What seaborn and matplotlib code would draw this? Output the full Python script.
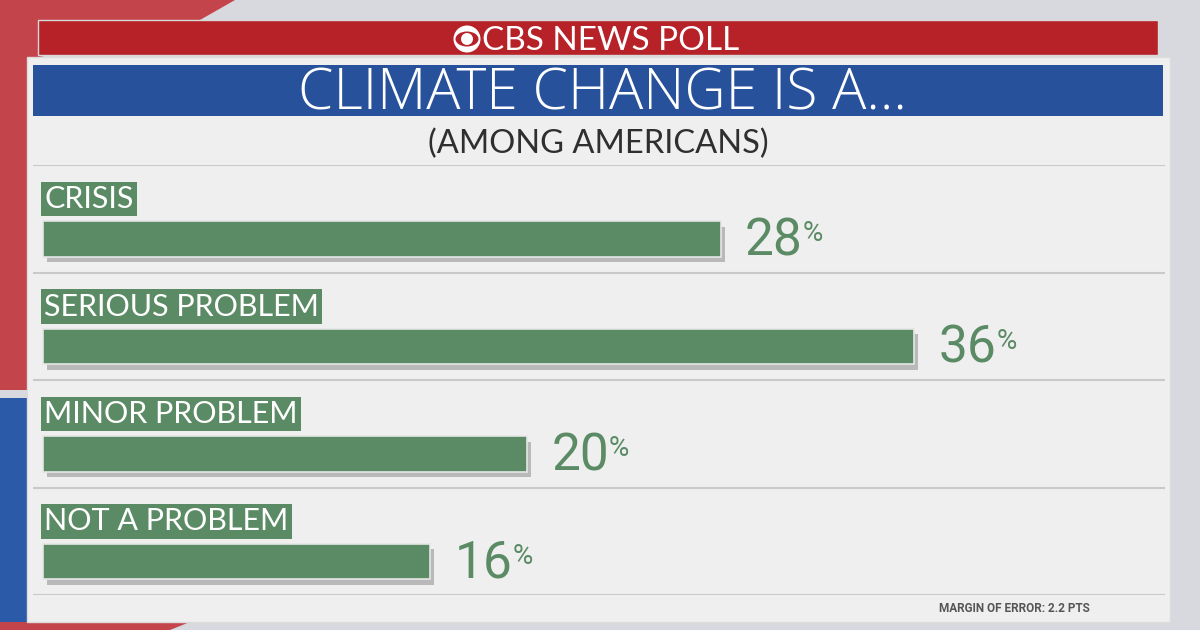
import matplotlib
matplotlib.use("Agg")
import matplotlib.pyplot as plt
import matplotlib.patches as mpatches
import matplotlib.patheffects as pe
import seaborn as sns

# ---- data ----
categories = ["CRISIS", "SERIOUS PROBLEM", "MINOR PROBLEM", "NOT A PROBLEM"]
values = [28, 36, 20, 16]
header_text = "CBS NEWS POLL"
title_text = "CLIMATE CHANGE IS A..."
subtitle_text = "(AMONG AMERICANS)"
footer_text = "MARGIN OF ERROR: 2.2 PTS"

# ---- style ----
sns.set_theme(style="white")
plt.rcParams['font.family'] = ['Lato', 'DejaVu Sans']
GREEN = "#5b8b65"
RED = "#b62228"
BLUE = "#28519c"
PANEL = "#efefef"
W, H = 1200, 630

fig = plt.figure(figsize=(12, 6.3), dpi=100)
fig.patch.set_facecolor("#d8d9de")

def fx(x):
    return x / W

def fy(y):
    return 1 - y / H

def frect(x0, y0, x1, y1, **kw):
    r = mpatches.Rectangle((fx(x0), fy(y1)), fx(x1) - fx(x0), fy(y0) - fy(y1),
                           transform=fig.transFigure, **kw)
    fig.patches.append(r)
    return r

# background flag-like shapes
fig.patches.append(mpatches.Polygon([(fx(0), fy(0)), (fx(235), fy(0)), (fx(200), fy(20)),
                                     (fx(27), fy(60)), (fx(27), fy(390)), (fx(0), fy(390))],
                                    closed=True, transform=fig.transFigure,
                                    facecolor="#c4444c", edgecolor="none", zorder=0))
fig.patches.append(mpatches.Polygon([(fx(0), fy(398)), (fx(27), fy(398)), (fx(27), fy(630)),
                                     (fx(0), fy(630))],
                                    closed=True, transform=fig.transFigure,
                                    facecolor="#2b5aa8", edgecolor="none", zorder=0))
fig.patches.append(mpatches.Polygon([(fx(0), fy(622)), (fx(190), fy(622)), (fx(170), fy(630)),
                                     (fx(0), fy(630))],
                                    closed=True, transform=fig.transFigure,
                                    facecolor="#c4444c", edgecolor="none", zorder=0))

# main panel
frect(27, 57, 1170, 622, facecolor=PANEL, edgecolor="#dcdcdc", lw=1, zorder=1)
# red header bar
frect(38, 20, 1158, 55, facecolor=RED, edgecolor="#d9d9d9", lw=1, zorder=2)
# blue title bar
frect(33, 65, 1163, 116, facecolor=BLUE, edgecolor="none", zorder=2)

# CBS eye logo
cx, cy = 467, 39
fig.patches.append(mpatches.Ellipse((fx(cx), fy(cy)), fx(27), 27 / H, transform=fig.transFigure,
                                    facecolor="white", edgecolor="none", zorder=3))
fig.patches.append(mpatches.Ellipse((fx(cx), fy(cy)), fx(23), 15 / H, transform=fig.transFigure,
                                    facecolor=RED, edgecolor="none", zorder=3))
fig.patches.append(mpatches.Ellipse((fx(cx), fy(cy)), fx(12), 12 / H, transform=fig.transFigure,
                                    facecolor="white", edgecolor="none", zorder=3))

fig.text(fx(482), fy(50), header_text, color="white", fontsize=24, ha="left", va="baseline",
         zorder=4)
fig.text(fx(602), fy(110), title_text, color="white", fontsize=41, fontweight="light",
         family=['Open Sans', 'Lato', 'DejaVu Sans'],
         ha="center", va="baseline", zorder=4)
fig.text(fx(598), fy(153), subtitle_text, color="#2f2f2f", fontsize=23.5,
         ha="center", va="baseline", zorder=4)
fig.text(fx(1090), fy(608), footer_text, color="#555555", fontsize=8.5, fontweight="bold",
         family=['Roboto', 'DejaVu Sans'],
         ha="right", va="center", zorder=4)

# ---- bar axes ----
PX_PER_UNIT = 24.2
ax_left, ax_right, ax_top, ax_bot = 33, 1165, 165, 595
ax = fig.add_axes([fx(ax_left), fy(ax_bot), fx(ax_right) - fx(ax_left), fy(ax_top) - fy(ax_bot)])
ax.set_zorder(10)
ax.set_facecolor("none")
ax.patch.set_alpha(0)

sns.barplot(x=values, y=categories, orient="h", color=GREEN, saturation=1,
            width=0.33, ax=ax, zorder=3)

row_px = (ax_bot - ax_top) / 4
top_val = -(239 - ax_top) / row_px
ax.set_ylim(top_val + 4, top_val)
ax.set_xlim(-(43 - ax_left) / PX_PER_UNIT, (ax_right - 43) / PX_PER_UNIT)

for p in ax.patches:
    p.set_path_effects([pe.SimplePatchShadow(offset=(3, -4), shadow_rgbFace="#555555", alpha=0.35),
                        pe.Normal()])
    p.set_edgecolor("#e6e6e6")
    p.set_linewidth(1.2)

for k in range(5):
    ax.axhline(top_val + k, color="#c9c9c9", lw=1.5, zorder=1)

label_off = (239 - 199) / row_px
num_font = ['Roboto', 'DejaVu Sans']
for i, (cat, v) in enumerate(zip(categories, values)):
    ax.text(0.05, i - label_off, cat, color="white", fontsize=22, ha="left", va="center",
            bbox=dict(boxstyle="square,pad=0.1", facecolor=GREEN, edgecolor="none"), zorder=4)
    t = ax.text(v + 1.0, i + 0.02, str(v), color=GREEN, fontsize=37, family=num_font,
                ha="left", va="center", zorder=4)
    ax.annotate("%", xy=(1, 1), xycoords=t, xytext=(0, -3), textcoords="offset points",
                color=GREEN, fontsize=20, family=num_font, ha="left", va="top", zorder=4)

ax.set_xlabel("")
ax.set_ylabel("")
ax.set_xticks([])
ax.set_yticks([])
for s in ax.spines.values():
    s.set_visible(False)

fig.savefig("out.png", dpi=100, facecolor=fig.get_facecolor())
